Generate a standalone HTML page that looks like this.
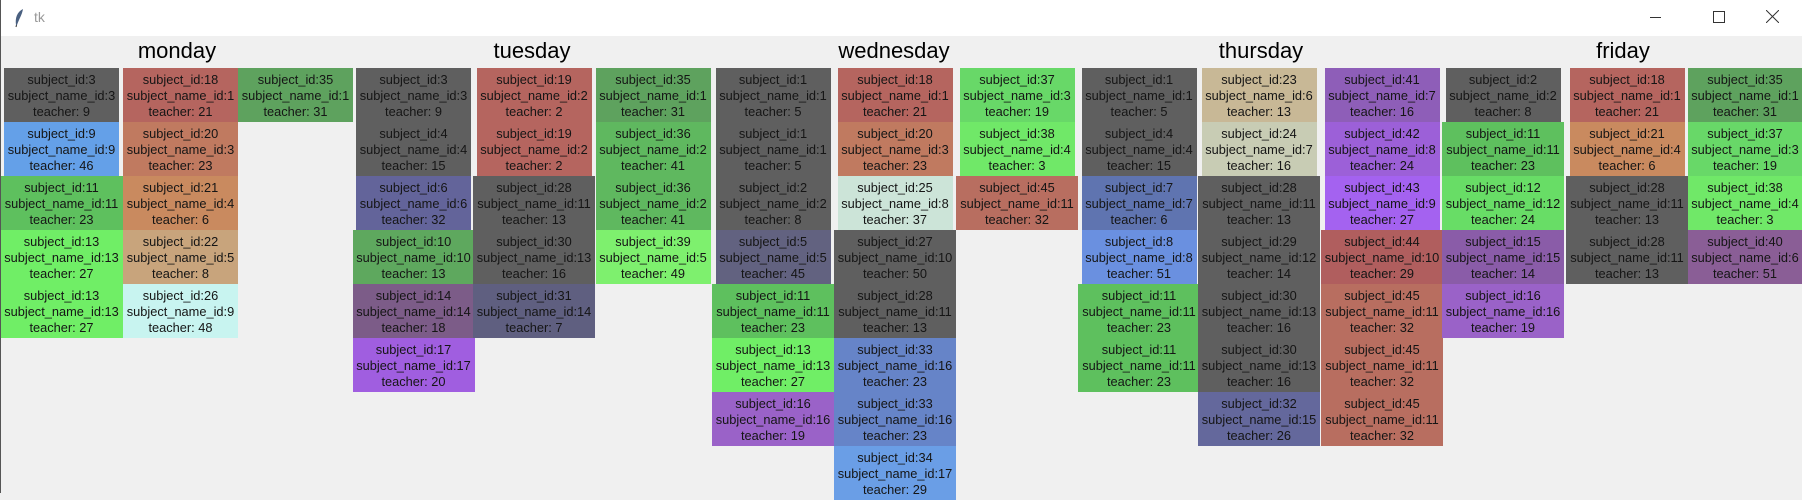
<!DOCTYPE html>
<html><head><meta charset="utf-8"><style>
html,body{margin:0;padding:0}
body{width:1802px;height:493px;position:relative;overflow:hidden;background:#f0f0f0;font-family:"Liberation Sans",Arial,sans-serif}
#tb{position:absolute;left:0;top:0;width:1802px;height:36px;background:#fff}
#lb{position:absolute;left:0;top:0;width:1px;height:493px;background:#555}
.t{position:absolute;top:38px;font-size:22px;color:#000;transform:translateX(-50%);white-space:nowrap}
.b{position:absolute;height:54px;box-sizing:border-box;padding-top:4px;text-align:center;font-size:12.8px;line-height:16px;color:#151515;white-space:nowrap;overflow:hidden}
</style></head><body>
<div id="tb">
<svg style="position:absolute;left:13px;top:8px" width="12" height="20" viewBox="0 0 12 20"><path d="M10 1 C4 4 2 10 3 17 L4 17 C6 11 9 7 10 1Z" fill="#4a6080"/><line x1="3.5" y1="17" x2="3" y2="19" stroke="#333"/></svg>
<div style="position:absolute;left:34px;top:9px;font-size:14px;color:#999">tk</div>
<div style="position:absolute;left:1650px;top:17px;width:11px;height:1px;background:#333"></div>
<div style="position:absolute;left:1713px;top:11px;width:10px;height:10px;border:1px solid #333"></div>
<svg style="position:absolute;left:1766px;top:10px" width="13" height="13"><path d="M0 0L13 13M13 0L0 13" stroke="#333" stroke-width="1"/></svg>
</div>
<div id="lb"></div>
<div class="t" style="left:177px">monday</div>
<div class="t" style="left:532px">tuesday</div>
<div class="t" style="left:894px">wednesday</div>
<div class="t" style="left:1261px">thursday</div>
<div class="t" style="left:1623px">friday</div>
<div id="c"></div>
<script>
var G='#5f5f5f',R='#b5655f',GR='#5ea25e',BG='#70ee66',SG='#5ec05e';
var cols=[
[61.5,[[3,3,9,G],[9,9,46,'#64a0e8'],[11,11,23,SG],[13,13,27,BG],[13,13,27,BG]]],
[180.5,[[18,1,21,R],[20,3,23,'#c07a60'],[21,4,6,'#c98a5f'],[22,5,8,'#c8a47c'],[26,9,48,'#c8f4f0']]],
[295.5,[[35,1,31,GR]]],
[413.5,[[3,3,9,G],[4,4,15,G],[6,6,32,'#63649a'],[10,10,13,'#5ea85e'],[14,14,18,'#7c5c88'],[17,17,20,'#a05ee0']]],
[534,[[19,2,2,R],[19,2,2,R],[28,11,13,G],[30,13,16,G],[31,14,7,'#5f5f80']]],
[653,[[35,1,31,GR],[36,2,41,'#5fb85f'],[36,2,41,'#5fb85f'],[39,5,49,'#7ef06e']]],
[773,[[1,1,5,G],[1,1,5,G],[2,2,8,G],[5,5,45,'#626280'],[11,11,23,SG],[13,13,27,BG],[16,16,19,'#9a62c8']]],
[895,[[18,1,21,R],[20,3,23,'#c07a60'],[25,8,37,'#cce4d8'],[27,10,50,G],[28,11,13,G],[33,16,23,'#6684c8'],[33,16,23,'#6684c8'],[34,17,29,'#6a9ee6']]],
[1017,[[37,3,19,'#68d868'],[38,4,3,'#70e868'],[45,11,32,'#b86e60']]],
[1139,[[1,1,5,G],[4,4,15,G],[7,7,6,'#5f74b0'],[8,8,51,'#6a90e0'],[11,11,23,SG],[11,11,23,SG]]],
[1259,[[23,6,13,'#c8b896'],[24,7,16,'#c8ccb4'],[28,11,13,G],[29,12,14,G],[30,13,16,G],[30,13,16,G],[32,15,26,'#64689c']]],
[1382,[[41,7,16,'#8e5eb8'],[42,8,24,'#9c60d8'],[43,9,27,'#a462f0'],[44,10,29,'#b05e5e'],[45,11,32,'#b86e60'],[45,11,32,'#b86e60'],[45,11,32,'#b86e60']]],
[1503,[[2,2,8,G],[11,11,23,SG],[12,12,24,'#68dd66'],[15,15,14,'#8a5ca8'],[16,16,19,'#9a62c8']]],
[1627,[[18,1,21,R],[21,4,6,'#c98a5f'],[28,11,13,G],[28,11,13,G]]],
[1745,[[35,1,31,GR],[37,3,19,'#68d868'],[38,4,3,'#70e868'],[40,6,51,'#8a5e96']]]
];
var h='';
cols.forEach(function(c){c[1].forEach(function(b,i){
var w=b[1]>=10?122:115;var x=c[0]-w/2;
h+='<div class="b" style="left:'+x+'px;top:'+(68+54*i)+'px;width:'+w+'px;background:'+b[3]+'">subject_id:'+b[0]+'<br>subject_name_id:'+b[1]+'<br>teacher: '+b[2]+'</div>';
});});
document.getElementById('c').innerHTML=h;
</script>
</body></html>
